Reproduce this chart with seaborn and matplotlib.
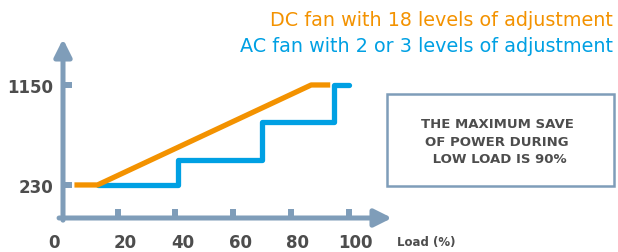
import matplotlib
matplotlib.use("Agg")
import matplotlib.pyplot as plt
import matplotlib.transforms as mtransforms
import pandas as pd
import seaborn as sns

# values
dc_load = [5, 13, 87, 93.6]
dc_speed = [230, 230, 1150, 1150]
ac_load = [13, 41, 70, 95, 100]
ac_speed = [230, 463, 812, 1150, 1150]
x_ticks = [20, 40, 60, 80, 100]
y_ticks = [230, 1150]
dc_label = "DC fan with 18 levels of adjustment"
ac_label = "AC fan with 2 or 3 levels of adjustment"
note = "THE MAXIMUM SAVE\nOF POWER DURING\n LOW LOAD IS 90%"

ORANGE = "#f39200"
BLUE = "#00a0e3"
AXIS = "#7f9db9"
GREY = "#4d4d4d"

sns.set_style("white")
plt.rcParams["font.family"] = ["DejaVu Sans"]

fig = plt.figure(figsize=(6.18, 2.53), dpi=100)
ax = fig.add_axes([63 / 618, 34 / 253, 329 / 618, 179 / 253])

dc = pd.DataFrame({"load": dc_load, "speed": dc_speed})
ac = pd.DataFrame({"load": ac_load, "speed": ac_speed})

sns.lineplot(data=ac, x="load", y="speed", ax=ax, color=BLUE, lw=3.8,
             sort=False, estimator=None, drawstyle="steps-post")
sns.lineplot(data=dc, x="load", y="speed", ax=ax, color=ORANGE, lw=3.8,
             sort=False, estimator=None, solid_capstyle="butt")

ax.set_xlim(1.04, 115)
ax.set_ylim(-74, 1573)
ax.set_xlabel("")
ax.set_ylabel("")
for s in ax.spines.values():
    s.set_visible(False)

# axes with arrow heads
arr = dict(arrowstyle="-|>", color=AXIS, lw=3.6, mutation_scale=26,
           shrinkA=0, shrinkB=0)
ax.annotate("", xy=(1, 0), xytext=(-0.012, 0), xycoords="axes fraction",
            arrowprops=arr, annotation_clip=False)
ax.annotate("", xy=(0, 1), xytext=(0, -0.012), xycoords="axes fraction",
            arrowprops=arr, annotation_clip=False)

ax.set_xticks(x_ticks)
ax.set_yticks(y_ticks)
ax.tick_params(bottom=True, left=True, direction="in", length=6.5, width=4.3,
               color=AXIS, labelcolor=GREY, labelsize=12)
ax.tick_params(axis="x", pad=11)
ax.tick_params(axis="y", pad=7)
shift = mtransforms.ScaledTranslation(0.07, 0, fig.dpi_scale_trans)
for lab in ax.get_xticklabels():
    lab.set_fontweight("bold")
    lab.set_transform(lab.get_transform() + shift)
for lab in ax.get_yticklabels():
    lab.set_fontweight("bold")
ax.text(-2, -24 / 179, "0", transform=ax.get_xaxis_transform(), ha="center",
        va="center", fontsize=12, fontweight="bold", color=GREY)
fig.text(397 / 618, 1 - 243 / 253, "Load (%)", ha="left", va="center",
         fontsize=8.5, fontweight="bold", color=GREY)

# legend text
fig.text(613 / 618, 1 - 20 / 253, dc_label, ha="right", va="center",
         fontsize=13.8, color=ORANGE)
fig.text(613 / 618, 1 - 47 / 253, ac_label, ha="right", va="center",
         fontsize=13.8, color=BLUE)

# note box
box = plt.Rectangle((387 / 618, 1 - 187 / 253), 227 / 618, 92 / 253,
                    transform=fig.transFigure, fill=False, ec=AXIS, lw=1.8)
fig.add_artist(box)
fig.text(497 / 618, 1 - 142 / 253, note, ha="center", va="center",
         fontsize=9.5, fontweight="bold", color=GREY, linespacing=1.45)

fig.savefig("out.png", dpi=100)
